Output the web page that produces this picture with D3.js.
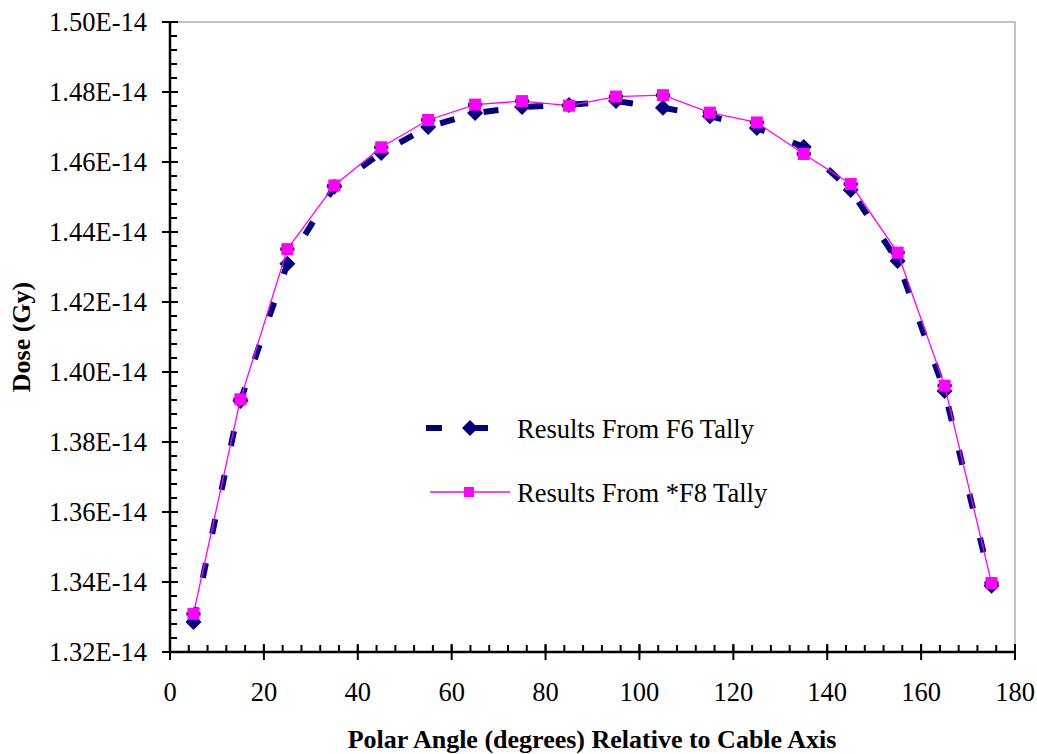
<!DOCTYPE html>
<html>
<head>
<meta charset="utf-8">
<script src="https://cdn.jsdelivr.net/npm/d3@7"></script>
<style>
  body { margin: 0; background: #fff; }
  svg { display: block; }
  svg text { font-family: "Liberation Serif", "Times New Roman", Times, "DejaVu Serif", serif; }
</style>
</head>
<body>
<svg id="chart" width="1037" height="754"></svg>
<script>
// Polar angle (degrees)
const angles = [5, 15, 25, 35, 45, 55, 65, 75, 85, 95, 105, 115, 125, 135, 145, 155, 165, 175];
// Dose in units of 1E-14 Gy
const f6Dose = [1.3286, 1.3917, 1.4309, 1.4529, 1.4626, 1.4700, 1.4740, 1.4757, 1.4763, 1.4774, 1.4755, 1.4731, 1.4697, 1.4643, 1.4520, 1.4317, 1.3946, 1.3389];
const f8Dose = [1.3309, 1.3922, 1.4351, 1.4533, 1.4642, 1.4720, 1.4764, 1.4774, 1.4761, 1.4787, 1.4791, 1.4741, 1.4713, 1.4623, 1.4537, 1.4341, 1.3961, 1.3397];
const f8Err = [0.0002, 0.0002, 0.0002, 0.0002, 0.0002, 0.0002, 0.0002, 0.0002, 0.0002, 0.0002, 0.0002, 0.0002, 0.0002, 0.0002, 0.0002, 0.0002, 0.0002, 0.0002];
const xTicks = [0, 20, 40, 60, 80, 100, 120, 140, 160, 180];
const yTicks = [1.32, 1.34, 1.36, 1.38, 1.40, 1.42, 1.44, 1.46, 1.48, 1.50];
const seriesNames = ["Results From F6 Tally", "Results From *F8 Tally"];
const xTitle = "Polar Angle (degrees) Relative to Cable Axis";
const yTitle = "Dose (Gy)";

const svg = d3.select("#chart");
const m = { left: 170, right: 1015, top: 22, bottom: 652 };
const x = d3.scaleLinear().domain([0, 180]).range([m.left, m.right]);
const y = d3.scaleLinear().domain([1.32, 1.50]).range([m.bottom, m.top]);
const fs = "26.5px";

// plot border (gray, top & right)
svg.append("path")
  .attr("d", `M${m.left},${m.top}H${m.right}V${m.bottom}`)
  .attr("fill", "none").attr("stroke", "#b0b0b0").attr("stroke-width", 1.5);

// Y axis minor ticks
const yMinor = d3.range(1.32, 1.5001, 0.004);
svg.append("g").selectAll("line").data(yMinor).join("line")
  .attr("x1", m.left).attr("x2", m.left + 7)
  .attr("y1", d => y(d)).attr("y2", d => y(d))
  .attr("stroke", "#000").attr("stroke-width", 2);
// Y axis major ticks
svg.append("g").selectAll("line").data(yTicks).join("line")
  .attr("x1", m.left - 8).attr("x2", m.left + 8)
  .attr("y1", d => y(d)).attr("y2", d => y(d))
  .attr("stroke", "#000").attr("stroke-width", 2);
svg.append("g").selectAll("text").data(yTicks).join("text")
  .attr("x", m.left - 23).attr("y", d => y(d)).attr("dy", "0.33em")
  .attr("text-anchor", "end").style("font-size", fs)
  .text(d => d.toFixed(2) + "E-14");

// X axis minor ticks
const xMinor = d3.range(0, 180.01, 4);
svg.append("g").selectAll("line").data(xMinor).join("line")
  .attr("x1", d => x(d)).attr("x2", d => x(d))
  .attr("y1", m.bottom).attr("y2", m.bottom - 7)
  .attr("stroke", "#000").attr("stroke-width", 2);
svg.append("g").selectAll("line").data(xTicks).join("line")
  .attr("x1", d => x(d)).attr("x2", d => x(d))
  .attr("y1", m.bottom - 8).attr("y2", m.bottom + 8)
  .attr("stroke", "#000").attr("stroke-width", 2);
svg.append("g").selectAll("text").data(xTicks).join("text")
  .attr("x", d => x(d)).attr("y", m.bottom + 49)
  .attr("text-anchor", "middle").style("font-size", fs)
  .text(d => d);

// axis lines
svg.append("line").attr("x1", m.left).attr("x2", m.left).attr("y1", m.top).attr("y2", m.bottom)
  .attr("stroke", "#000").attr("stroke-width", 2.5);
svg.append("line").attr("x1", m.left).attr("x2", m.right).attr("y1", m.bottom).attr("y2", m.bottom)
  .attr("stroke", "#000").attr("stroke-width", 2.5);

// Axis titles
svg.append("text").attr("x", 592).attr("y", 748)
  .attr("text-anchor", "middle").style("font-size", "26px").style("font-weight", "bold")
  .text(xTitle);
svg.append("text").attr("transform", `translate(30,${(m.top + m.bottom) / 2}) rotate(-90)`)
  .attr("text-anchor", "middle").style("font-size", "26px").style("font-weight", "bold")
  .text(yTitle);

const navy = "#000080", mag = "#FF00FF";
const diamond = "M0,-8L8,0L0,8L-8,0Z";

// F6 series
const f6 = angles.map((a, i) => ({ a, v: f6Dose[i] }));
const line = d3.line().x(d => x(d.a)).y(d => y(d.v));
svg.append("path").datum(f6).attr("d", line)
  .attr("fill", "none").attr("stroke", navy).attr("stroke-width", 6)
  .attr("stroke-dasharray", "15,30");
svg.append("g").selectAll("path").data(f6).join("path")
  .attr("transform", d => `translate(${x(d.a)},${y(d.v)})`)
  .attr("d", diamond).attr("fill", navy);

// F8 series
const f8 = angles.map((a, i) => ({ a, v: f8Dose[i], e: f8Err[i] }));
svg.append("path").datum(f8).attr("d", line)
  .attr("fill", "none").attr("stroke", mag).attr("stroke-width", 1.3);
const eb = svg.append("g").attr("stroke", "#000").attr("stroke-width", 2);
eb.selectAll(".v").data(f8).join("line")
  .attr("x1", d => x(d.a)).attr("x2", d => x(d.a))
  .attr("y1", d => y(d.v - d.e)).attr("y2", d => y(d.v + d.e));
eb.selectAll(".t").data(f8).join("line")
  .attr("x1", d => x(d.a) - 7).attr("x2", d => x(d.a) + 7)
  .attr("y1", d => y(d.v + d.e)).attr("y2", d => y(d.v + d.e));
eb.selectAll(".b").data(f8).join("line")
  .attr("x1", d => x(d.a) - 7).attr("x2", d => x(d.a) + 7)
  .attr("y1", d => y(d.v - d.e)).attr("y2", d => y(d.v - d.e));
svg.append("g").selectAll("rect").data(f8).join("rect")
  .attr("x", d => x(d.a) - 6).attr("y", d => y(d.v) - 6)
  .attr("width", 12).attr("height", 12).attr("fill", mag);

// Legend
const lg = svg.append("g");
lg.append("line").attr("x1", 426).attr("x2", 442).attr("y1", 428).attr("y2", 428)
  .attr("stroke", navy).attr("stroke-width", 6);
lg.append("line").attr("x1", 470).attr("x2", 488).attr("y1", 428).attr("y2", 428)
  .attr("stroke", navy).attr("stroke-width", 6);
lg.append("path").attr("transform", "translate(470,428)").attr("d", diamond).attr("fill", navy);
lg.append("text").attr("x", 517).attr("y", 429).attr("dy", "0.33em")
  .style("font-size", fs).text(seriesNames[0]);
lg.append("line").attr("x1", 430).attr("x2", 510).attr("y1", 492).attr("y2", 492)
  .attr("stroke", mag).attr("stroke-width", 1.3);
lg.append("rect").attr("x", 464).attr("y", 487).attr("width", 10).attr("height", 10).attr("fill", mag);
lg.append("text").attr("x", 517).attr("y", 493).attr("dy", "0.33em")
  .style("font-size", fs).text(seriesNames[1]);
</script>
</body>
</html>
